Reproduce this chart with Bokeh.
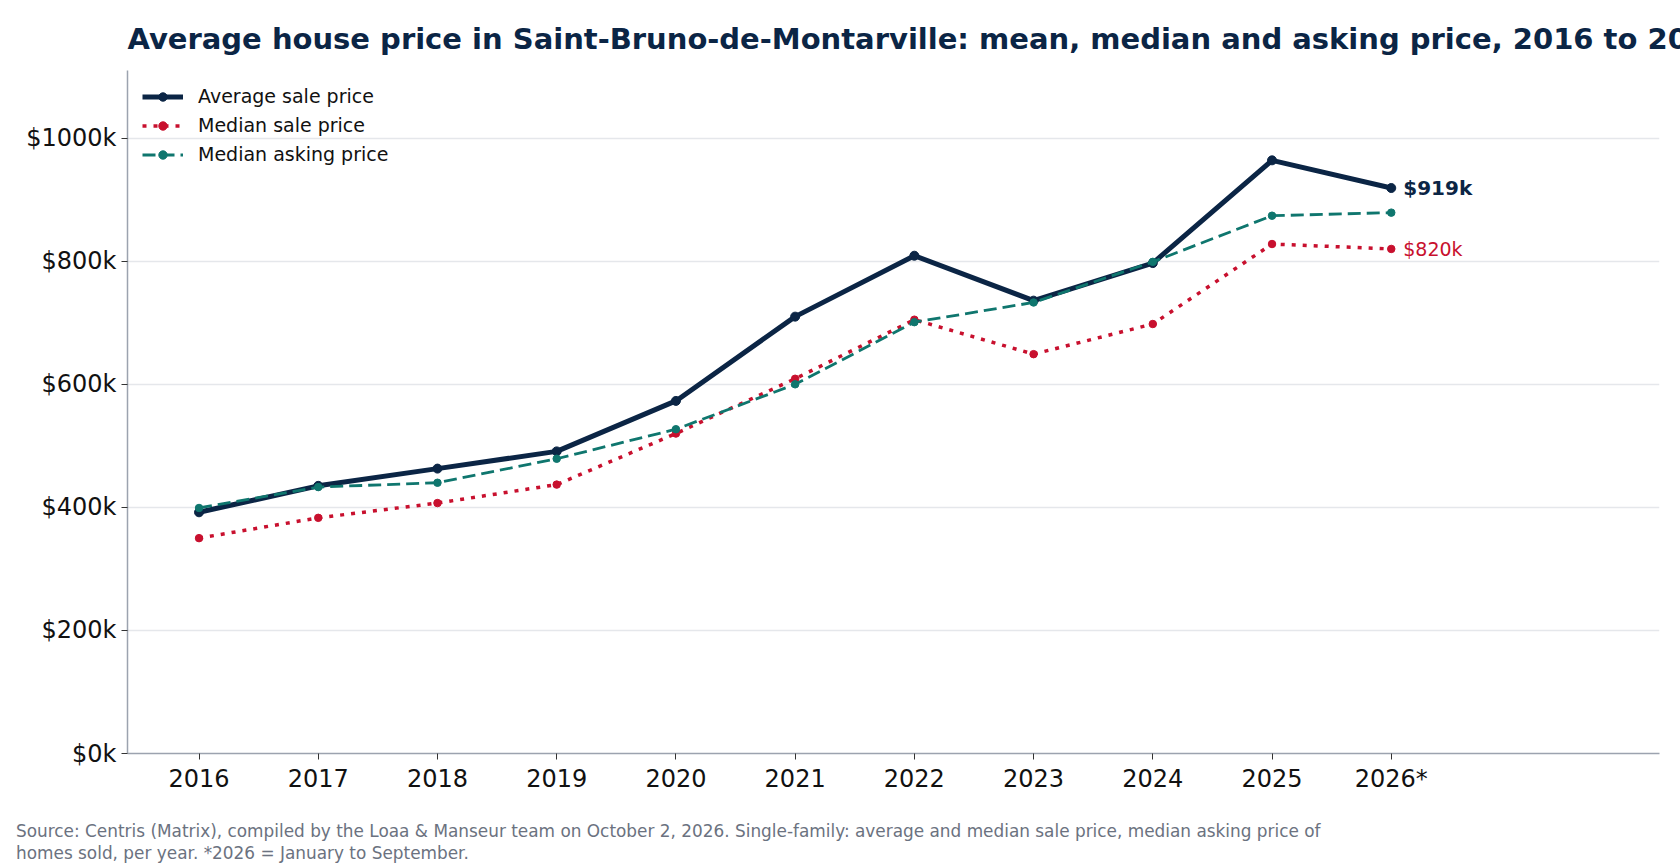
from bokeh.plotting import figure
from bokeh.models import (ColumnDataSource, FixedTicker, PrintfTickFormatter, Legend, LegendItem, Div)
from bokeh.layouts import column
from bokeh.core.properties import value
from bokeh.embed import file_html
from bokeh.resources import INLINE

years = ["2016", "2017", "2018", "2019", "2020", "2021", "2022", "2023", "2024", "2025", "2026*"]
avg_sale = [392, 435, 463, 491, 573, 710, 809, 736, 797, 964, 919]
median_sale = [350, 383, 407, 437, 520, 609, 705, 649, 698, 828, 820]
median_asking = [399, 433, 440, 479, 527, 600, 701, 733, 799, 874, 879]
y_ticks = [0, 200, 400, 600, 800, 1000]

TITLE = "Average house price in Saint-Bruno-de-Montarville: mean, median and asking price, 2016 to 2026"
NOTE1 = ("Source: Centris (Matrix), compiled by the Loaa &amp; Manseur team on October 2, 2026. "
         "Single-family: average and median sale price, median asking price of")
NOTE2 = "homes sold, per year. *2026 = January to September."

NAVY = "#0b2545"
RED = "#c8102e"
TEAL = "#0f766e"
FONT = "DejaVu Sans"

xs = list(range(len(years)))

p = figure(width=1680, height=800, output_backend="svg", toolbar_location=None,
           x_range=(-0.6, 12.25), y_range=(0, 1110),
           min_border_left=127, min_border_right=21, min_border_top=70, min_border_bottom=47)

p.title.text = TITLE
p.title.text_font = FONT
p.title.text_font_size = "29px"
p.title.text_color = NAVY
p.title.text_font_style = "bold"
p.title.standoff = 30

p.outline_line_color = None
p.background_fill_color = "white"
p.border_fill_color = "white"

p.xgrid.grid_line_color = None
p.ygrid.grid_line_color = "#e5e7eb"
p.ygrid.grid_line_width = 1.5
p.ygrid.ticker = FixedTicker(ticks=y_ticks)

p.yaxis.ticker = FixedTicker(ticks=y_ticks)
p.yaxis.formatter = PrintfTickFormatter(format="$%dk")
p.xaxis.ticker = FixedTicker(ticks=xs)
p.xaxis.major_label_overrides = {i: y for i, y in enumerate(years)}
for ax in (p.xaxis, p.yaxis):
    ax.axis_line_color = "#9ca3af"
    ax.axis_line_width = 1.5
    ax.major_tick_line_color = "#333333"
    ax.major_tick_line_width = 1
    ax.major_tick_out = 6
    ax.major_tick_in = 0
    ax.minor_tick_line_color = None
    ax.major_label_text_font = FONT
    ax.major_label_text_font_size = "24px"
    ax.major_label_text_color = "#111111"
    ax.major_label_standoff = 5

src = ColumnDataSource(dict(x=xs, avg=avg_sale, med=median_sale, ask=median_asking))

l1 = p.line("x", "avg", source=src, line_color=NAVY, line_width=5)
c1 = p.scatter("x", "avg", source=src, size=9, fill_color=NAVY, line_color=NAVY)
l2 = p.line("x", "med", source=src, line_color=RED, line_width=3.5, line_dash="4 7")
c2 = p.scatter("x", "med", source=src, size=7.5, fill_color=RED, line_color=RED)
l3 = p.line("x", "ask", source=src, line_color=TEAL, line_width=2.8, line_dash="13 6")
c3 = p.scatter("x", "ask", source=src, size=7.5, fill_color=TEAL, line_color=TEAL)

legend = Legend(items=[
    LegendItem(label="Average sale price", renderers=[l1, c1]),
    LegendItem(label="Median sale price", renderers=[l2, c2]),
    LegendItem(label="Median asking price", renderers=[l3, c3]),
], location="top_left")
legend.background_fill_alpha = 0
legend.border_line_alpha = 0
legend.label_text_font = FONT
legend.label_text_font_size = "19px"
legend.label_text_color = "#111111"
legend.glyph_width = 41
legend.glyph_height = 21
legend.label_height = 21
legend.label_standoff = 15
legend.spacing = 7
legend.margin = 5
legend.padding = 10
p.add_layout(legend)

last = len(years) - 1
p.text(x=[last], y=[avg_sale[-1]], text=["$%dk" % avg_sale[-1]], x_offset=12,
       text_baseline="middle", text_font=value(FONT), text_font_size="20px",
       text_font_style="bold", text_color=NAVY)
p.text(x=[last], y=[median_sale[-1]], text=["$%dk" % median_sale[-1]], x_offset=12,
       text_baseline="middle", text_font=value(FONT), text_font_size="19px",
       text_color=RED)

note = Div(text=NOTE1 + "<br>" + NOTE2, width=1680, height=68, margin=(0, 0, 0, 0),
           styles={"font-family": "'DejaVu Sans'", "font-size": "16.9px", "color": "#6b7280",
                   "line-height": "22px", "padding-left": "16px", "padding-top": "20px",
                   "white-space": "nowrap", "background-color": "white",
                   "box-sizing": "border-box"})

layout = column(p, note, spacing=0)
open("out.html", "w").write(file_html(layout, INLINE))
